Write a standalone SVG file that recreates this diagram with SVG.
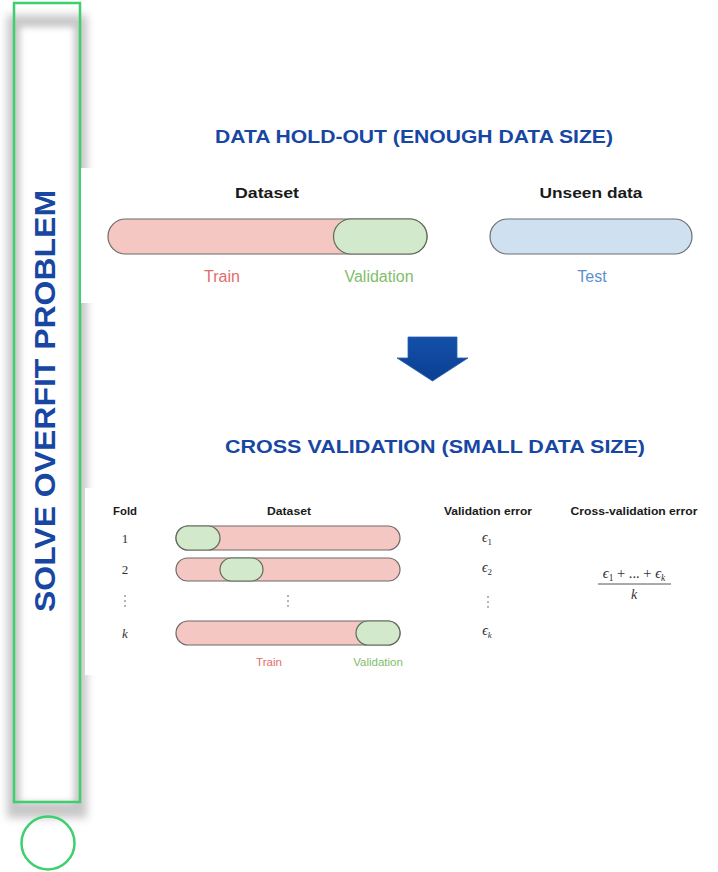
<svg xmlns="http://www.w3.org/2000/svg" width="718" height="872" viewBox="0 0 718 872">
  <style>
    .head { font-family: "Liberation Sans", Arial, sans-serif; font-weight: bold; fill: #1747a3; text-anchor: middle; }
    .lbl { font-family: "Liberation Sans", Arial, sans-serif; text-anchor: middle; }
    .bold { font-weight: bold; fill: #1a1a1a; }
    .math { font-family: "Liberation Serif", "DejaVu Serif", serif; fill: #333; text-anchor: middle; }
    .it { font-style: italic; }
    .train { fill: #f5c7c3; stroke: #6e6a68; stroke-width: 1.2; }
    .val { fill: #d3e9cb; stroke: #5f6a5c; stroke-width: 1.2; }
    .test { fill: #cfe0f0; stroke: #6b6e72; stroke-width: 1.2; }
    .tTrain { fill: #e26c6c; }
    .tVal { fill: #7fbd6a; }
    .tTest { fill: #5b90cf; }
    .panel { fill: #ffffff; }
  </style>
  <defs>
    <filter id="soft" x="-30%" y="-5%" width="160%" height="110%">
      <feGaussianBlur stdDeviation="4"/>
    </filter>
    <filter id="soft2" x="-30%" y="-5%" width="160%" height="110%">
      <feGaussianBlur stdDeviation="3"/>
    </filter>
    <linearGradient id="arrowFill" x1="0" y1="0" x2="0" y2="1">
      <stop offset="0" stop-color="#1450a8"/>
      <stop offset="1" stop-color="#0a3f93"/>
    </linearGradient>
  </defs>

  <rect width="718" height="872" fill="#ffffff"/>

  <!-- side banner -->
  <g id="banner">
    <rect x="7" y="15" width="80" height="803" fill="#9a9a9a" opacity="0.55" filter="url(#soft)"/>
    <rect x="20" y="27" width="54" height="775" fill="#ffffff" filter="url(#soft2)"/>
    <rect x="14" y="3" width="66" height="799" fill="none" stroke="#3ecf6e" stroke-width="2.5"/>
    <text class="head" transform="translate(55 401) rotate(-90)" font-size="30" textLength="422" lengthAdjust="spacingAndGlyphs">SOLVE OVERFIT PROBLEM</text>
  </g>
  <g id="marker-circle">
    <circle cx="48" cy="843" r="26.5" fill="none" stroke="#3ecf6e" stroke-width="2.5"/>
  </g>

  <!-- hold-out section -->
  <g id="title-holdout">
    <text class="head" x="414" y="143" font-size="19" textLength="398" lengthAdjust="spacingAndGlyphs">DATA HOLD-OUT (ENOUGH DATA SIZE)</text>
  </g>

  <g id="holdout-panel">
    <rect class="panel" x="81" y="168" width="637" height="135"/>
    <text class="lbl bold" x="267" y="198" font-size="15" textLength="64" lengthAdjust="spacingAndGlyphs">Dataset</text>
    <rect class="train" x="108" y="219" width="319" height="35" rx="17.5"/>
    <path class="val" d="M351 219 H409.5 A17.5 17.5 0 0 1 409.5 254 H351 A17.5 17.5 0 0 1 351 219 Z"/>
    <text class="lbl tTrain" x="222" y="282" font-size="16">Train</text>
    <text class="lbl tVal" x="379" y="282" font-size="16">Validation</text>

    <text class="lbl bold" x="591" y="198" font-size="15" textLength="103" lengthAdjust="spacingAndGlyphs">Unseen data</text>
    <rect class="test" x="490" y="219" width="202" height="35" rx="17.5"/>
    <text class="lbl tTest" x="592" y="282" font-size="16">Test</text>
  </g>

  <!-- transition arrow -->
  <g id="connectors">
    <polygon points="408,337 457,337 457,358 468,358 432.5,381 397,358 408,358" fill="url(#arrowFill)" stroke="#2a5fb0" stroke-width="0.8"/>
  </g>

  <!-- cross-validation section -->
  <g id="title-cv">
    <text class="head" x="435" y="453" font-size="19" textLength="420" lengthAdjust="spacingAndGlyphs">CROSS VALIDATION (SMALL DATA SIZE)</text>
  </g>

  <g id="cv-panel">
    <rect class="panel" x="85" y="488" width="633" height="187"/>
    <text class="lbl bold" x="125" y="515" font-size="11.5" textLength="24" lengthAdjust="spacingAndGlyphs">Fold</text>
    <text class="lbl bold" x="289" y="515" font-size="11.5" textLength="44" lengthAdjust="spacingAndGlyphs">Dataset</text>
    <text class="lbl bold" x="488" y="515" font-size="11.5" textLength="88" lengthAdjust="spacingAndGlyphs">Validation error</text>
    <text class="lbl bold" x="634" y="515" font-size="11.5" textLength="127" lengthAdjust="spacingAndGlyphs">Cross-validation error</text>

    <!-- fold 1 -->
    <text class="math" x="125" y="543" font-size="13">1</text>
    <rect class="train" x="176" y="526" width="224" height="24" rx="12"/>
    <rect class="val" x="176" y="526" width="44" height="24" rx="12"/>
    <text class="math it" x="487" y="542" font-size="14">ϵ<tspan font-size="9" dy="2.5" font-style="normal">1</tspan></text>

    <!-- fold 2 -->
    <text class="math" x="125" y="574" font-size="13">2</text>
    <rect class="train" x="176" y="558" width="224" height="23" rx="11.5"/>
    <rect class="val" x="220" y="558" width="43" height="23" rx="11.5"/>
    <text class="math it" x="487" y="572" font-size="14">ϵ<tspan font-size="9" dy="2.5" font-style="normal">2</tspan></text>

    <!-- vertical ellipses -->
    <g fill="#555">
      <circle cx="125" cy="596" r="0.8"/><circle cx="125" cy="601" r="0.8"/><circle cx="125" cy="606" r="0.8"/>
      <circle cx="288" cy="596" r="0.8"/><circle cx="288" cy="601" r="0.8"/><circle cx="288" cy="606" r="0.8"/>
      <circle cx="488" cy="597" r="0.8"/><circle cx="488" cy="602" r="0.8"/><circle cx="488" cy="607" r="0.8"/>
    </g>

    <!-- fold k -->
    <text class="math it" x="125" y="638" font-size="13">k</text>
    <rect class="train" x="176" y="621" width="224" height="24" rx="12"/>
    <rect class="val" x="356" y="621" width="44" height="24" rx="12"/>
    <text class="math it" x="487" y="635" font-size="14">ϵ<tspan font-size="9" dy="2.5">k</tspan></text>

    <text class="lbl tTrain" x="269" y="666" font-size="11.5">Train</text>
    <text class="lbl tVal" x="378" y="666" font-size="11.5">Validation</text>

    <!-- averaged error -->
    <text class="math" x="634" y="578" font-size="14.5"><tspan font-style="italic">ϵ</tspan><tspan font-size="9.5" dy="2.5">1</tspan><tspan dy="-2.5"> + ... + </tspan><tspan font-style="italic">ϵ</tspan><tspan font-size="9.5" dy="2.5" font-style="italic">k</tspan></text>
    <line x1="598" y1="584" x2="671" y2="584" stroke="#444" stroke-width="0.9"/>
    <text class="math it" x="634" y="599" font-size="14">k</text>
  </g>
</svg>
